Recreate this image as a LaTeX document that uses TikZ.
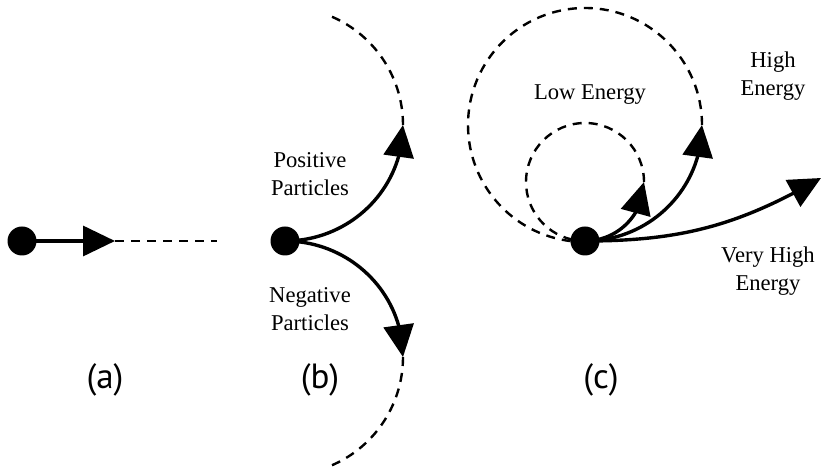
\documentclass[tikz,border=0pt]{standalone}
\usepackage{fontspec}
\setmainfont{Liberation Serif}
\newfontfamily\capfont{PT Sans}
\usetikzlibrary{arrows.meta,bending}

\begin{document}
\begin{tikzpicture}[x=0.5pt,y=0.5pt,
    dot/.style={circle,fill=black,inner sep=0pt,minimum size=14.5pt},
    traj/.style={line width=1.7pt,-{Triangle[length=16pt,width=15pt,flex]}},
    trail/.style={line width=1.2pt,dash pattern=on 4.5pt off 3.5pt},
    lbl/.style={align=center,font=\fontsize{11.3}{14}\selectfont},
    caplbl/.style={font=\capfont\fontsize{17.5}{20}\selectfont}]
  \useasboundingbox (0,0) rectangle (824,471);
  % (a) no field
  \node[dot] (dota) at (22,230) {};
  \coordinate (tipa) at (115,230);
  \coordinate (enda) at (217,230);
  \draw[traj] (dota.center) -- (tipa);
  \draw[trail] (tipa) -- (enda);
  \node[caplbl] (capa) at (105,91) {(a)};
  % (b) positive and negative
  \node[dot] (dotb) at (285,230) {};
  \coordinate (tippos) at (403,346);
  \coordinate (tipneg) at (403,114);
  \draw[traj] (dotb.center) to[out=0,in=-90] (tippos);
  \draw[traj] (dotb.center) to[out=0,in=90] (tipneg);
  \draw[trail] (tippos) arc[start angle=0,end angle=69,radius=118];
  \draw[trail] (tipneg) arc[start angle=0,end angle=-69,radius=118];
  \node[lbl] (pos) at (310,297) {Positive\\Particles};
  \node[lbl] (neg) at (310,162) {Negative\\Particles};
  \node[caplbl] (capb) at (320,91) {(b)};
  % (c) energies
  \node[dot] (dotc) at (585,230) {};
  \coordinate (tiplow) at (644,289);
  \coordinate (tiphigh) at (702,346);
  \coordinate (tipvh) at (821,293);
  \draw[trail] (tiplow) arc[start angle=0,end angle=262,radius=59];
  \draw[trail] (tiphigh) arc[start angle=0,end angle=263,radius=117];
  \draw[traj] (dotc.center) to[out=0,in=-90] (tiplow);
  \draw[traj] (dotc.center) to[out=0,in=-90] (tiphigh);
  \draw[traj] (dotc.center) to[out=0,in=210] (tipvh);
  \node[lbl] (low) at (590,376) {Low Energy};
  \node[lbl] (high) at (773,395) {High\\Energy};
  \node[lbl] (vhigh) at (768,200) {Very High\\Energy};
  \node[caplbl] (capc) at (601,91) {(c)};
\end{tikzpicture}
\end{document}
